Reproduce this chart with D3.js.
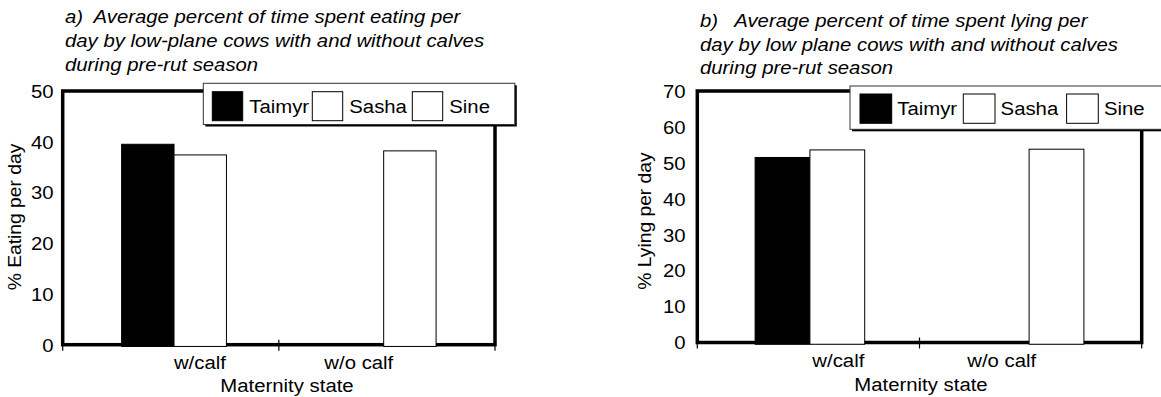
<!DOCTYPE html>
<html><head><meta charset="utf-8">
<script src="https://cdn.jsdelivr.net/npm/d3@7"></script>
<style>
html,body{margin:0;padding:0;background:#fff;}
svg text{font-family:"Liberation Sans",Arial,Helvetica,sans-serif;font-size:18px;fill:#000;white-space:pre;}
</style></head><body>
<svg id="chart" width="1161" height="397"></svg>
<script>
// ---------- data ----------
const categories = ["w/calf", "w/o calf"];
const seriesNames = ["Taimyr", "Sasha", "Sine"];
const seriesFill = ["#000000", "#ffffff", "#ffffff"];

const eatingTaimyr = [39.5, null];
const eatingSasha  = [37.4, null];
const eatingSine   = [null, 38.2];

const lyingTaimyr = [51.5, null];
const lyingSasha  = [53.6, null];
const lyingSine   = [null, 53.8];

const eatingTicks = [0, 10, 20, 30, 40, 50];
const lyingTicks  = [0, 10, 20, 30, 40, 50, 60, 70];

const eatingTitle = ["a)  Average percent of time spent eating per",
                     "day by low-plane cows with and without calves",
                     "during pre-rut season"];
const lyingTitle  = ["b)   Average percent of time spent lying per",
                     "day by low plane cows with and without calves",
                     "during pre-rut season"];
const eatingYLabel = "% Eating per day";
const lyingYLabel  = "% Lying per day";
const xAxisTitle   = "Maternity state";

// ---------- layout ----------
const SX = 1.13;          // horizontal stretch of the original typeface
const slotOf = [0, 1, 1]; // slot each series occupies inside a category

const panels = [
  { title: eatingTitle, yLabel: eatingYLabel, ymax: 50, ticks: eatingTicks,
    series: [eatingTaimyr, eatingSasha, eatingSine],
    frame: {l: 62.7, r: 495, t: 91, b: 344.7}, inset: 6.5,
    titleX: 65, titleY: [22.7, 46.7, 70.7],
    tickLabelX: 53.5, yTitleX: 20.5, yTitleY: 217,
    xLabY: 368.5, xTitleX: 287, xTitleY: 392,
    legend: {x: 203.3, y: 83.3, w: 311.5, h: 41.2, sx: 212.3, sy: 91.7, sw: 30.4, sh: 29, step: 100, textDx: 37, textY: 112.6} },
  { title: lyingTitle, yLabel: lyingYLabel, ymax: 70, ticks: lyingTicks,
    series: [lyingTaimyr, lyingSasha, lyingSine],
    frame: {l: 697.3, r: 1141.7, t: 91, b: 342.5}, inset: 3,
    titleX: 700, titleY: [27, 50.5, 74],
    tickLabelX: 685.5, yTitleX: 651, yTitleY: 221,
    xLabY: 367, xTitleX: 921, xTitleY: 390.5,
    legend: {x: 850, y: 86, w: 330, h: 43.3, sx: 860, sy: 94, sw: 31.7, sh: 29.3, step: 103.3, textDx: 37.3, textY: 115.1} }
];

const svg = d3.select("#chart");

function addText(g, x, y, str, opt = {}) {
  const t = g.append("text")
    .attr("transform", `translate(${x},${y})${opt.rotate ? ` rotate(${opt.rotate})` : ""} scale(${opt.sx || SX},1)`)
    .attr("text-anchor", opt.anchor || "start")
    .text(str);
  if (opt.italic) t.style("font-style", "italic");
  return t;
}

panels.forEach(p => {
  const g = svg.append("g");
  const f = p.frame;

  // title
  p.title.forEach((line, i) => addText(g, p.titleX, p.titleY[i], line, {italic: true}));

  // scales
  const y = d3.scaleLinear().domain([0, p.ymax]).range([f.b, f.t]);
  const xBand = d3.scaleBand().domain(categories)
    .range([f.l + p.inset, f.r - p.inset]).paddingInner(0).paddingOuter(0);
  const inner = d3.scaleBand().domain([0, 1]).range([0, xBand.bandwidth()])
    .paddingInner(0).paddingOuter(1);
  const xLab = d3.scalePoint().domain(categories).range([f.l, f.r]).padding(0.86);

  // frame
  g.append("rect").attr("x", f.l).attr("y", f.t)
    .attr("width", f.r - f.l).attr("height", f.b - f.t)
    .attr("fill", "none").attr("stroke", "#000").attr("stroke-width", 3.5);

  // bars
  p.series.forEach((vals, si) => {
    g.append("g").selectAll("rect")
      .data(vals.map((v, ci) => ({v, c: categories[ci]})).filter(d => d.v != null))
      .join("rect")
      .attr("x", d => xBand(d.c) + inner(slotOf[si]))
      .attr("width", inner.bandwidth())
      .attr("y", d => y(d.v))
      .attr("height", d => f.b + 1.75 - y(d.v))
      .attr("fill", seriesFill[si])
      .attr("stroke", "#000").attr("stroke-width", 1);
  });

  // category boundary ticks
  const tickXs = [f.l, ...categories.slice(1).map(c => xBand(c)), f.r];
  g.append("g").selectAll("line").data(tickXs).join("line")
    .attr("x1", d => d).attr("x2", d => d)
    .attr("y1", f.b - 5).attr("y2", f.b + 6)
    .attr("stroke", "#000").attr("stroke-width", 1.2);

  // y axis labels
  const ya = g.append("g").attr("transform", `translate(${p.tickLabelX},0)`)
    .call(d3.axisLeft(y).tickValues(p.ticks).tickSize(0).tickPadding(0));
  ya.select(".domain").remove();
  ya.selectAll("text").attr("x", 0).attr("dy", "0.35em").attr("transform", `scale(${SX},1)`);

  // x axis labels
  const xa = g.append("g").attr("transform", `translate(0,${p.xLabY})`)
    .call(d3.axisBottom(xLab).tickSize(0).tickPadding(0));
  xa.select(".domain").remove();
  xa.selectAll("text").attr("y", 0).attr("dy", 0).attr("transform", `scale(${SX},1)`);

  // axis titles
  addText(g, p.xTitleX, p.xTitleY, xAxisTitle, {anchor: "middle"});
  addText(g, p.yTitleX, p.yTitleY, p.yLabel, {anchor: "middle", rotate: -90, sx: 1.07});

  // legend
  const L = p.legend;
  g.append("rect").attr("x", L.x + 2).attr("y", L.y + 2).attr("width", L.w).attr("height", L.h).attr("fill", "#000");
  g.append("rect").attr("x", L.x).attr("y", L.y).attr("width", L.w).attr("height", L.h)
    .attr("fill", "#fff").attr("stroke", "#333").attr("stroke-width", 1);
  const lx = d3.scaleLinear().domain([0, 1]).range([L.sx, L.sx + L.step]);
  const items = g.append("g").selectAll("g").data(seriesNames).join("g");
  items.append("rect")
    .attr("x", (d, i) => lx(i)).attr("y", L.sy)
    .attr("width", L.sw).attr("height", L.sh)
    .attr("fill", (d, i) => seriesFill[i]).attr("stroke", "#000").attr("stroke-width", 1);
  items.each(function(d, i) {
    addText(d3.select(this), lx(i) + L.textDx, L.textY, d);
  });
});
</script>
</body></html>
